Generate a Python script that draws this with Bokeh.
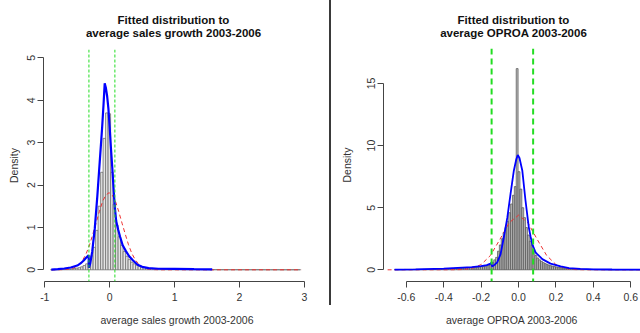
import numpy as np
from bokeh.plotting import figure
from bokeh.models import Span, FixedTicker, Div, Range1d, ColumnDataSource, PrintfTickFormatter
from bokeh.layouts import row, column
from bokeh.embed import file_html
from bokeh.resources import INLINE

# ---------------- Left panel: average sales growth ----------------
sales_bin_start = -0.91
sales_bin_width = 0.0385
sales_hist = [
    0.003, 0.004, 0.005, 0.006, 0.008, 0.010, 0.013, 0.017, 0.022, 0.030,
    0.040, 0.050, 0.070, 0.100, 0.140, 0.200, 0.330, 0.530, 0.930, 1.500,
    2.300, 3.100, 3.700, 3.680, 2.300, 1.550, 1.050, 0.780, 0.580, 0.430,
    0.320, 0.240, 0.180, 0.140, 0.110, 0.085, 0.068, 0.055, 0.045, 0.038,
    0.032, 0.028, 0.025, 0.022, 0.020, 0.018, 0.016, 0.015, 0.014, 0.013,
    0.012, 0.011, 0.011, 0.010, 0.010, 0.009, 0.009, 0.008, 0.008, 0.007,
    0.007, 0.006, 0.006, 0.006, 0.005, 0.005, 0.005, 0.005, 0.004, 0.004,
    0.004, 0.004, 0.004, 0.004, 0.003, 0.003, 0.003, 0.003, 0.003, 0.003,
    0.003, 0.003, 0.003, 0.003, 0.003, 0.002, 0.002, 0.002, 0.002, 0.002,
    0.002, 0.002, 0.002, 0.002, 0.002, 0.002, 0.002, 0.002, 0.002, 0.002,
]
sales_fit_x = [-0.90, -0.80, -0.70, -0.60, -0.50, -0.45, -0.40, -0.36, -0.325, -0.320,
               -0.30, -0.27, -0.23, -0.19, -0.154, -0.118, -0.095, -0.077, -0.060, -0.040,
               -0.020, 0.000, 0.020, 0.040, 0.060, 0.080, 0.100, 0.130, 0.160, 0.200,
               0.250, 0.300, 0.360, 0.430, 0.500, 0.600, 0.750, 1.000, 1.300, 1.580]
sales_fit_y = [0.005, 0.015, 0.030, 0.055, 0.100, 0.150, 0.220, 0.290, 0.340, 0.050,
               0.150, 0.420, 0.970, 1.750, 2.540, 3.320, 3.900, 4.400, 4.300, 4.100,
               3.800, 3.350, 2.850, 2.400, 1.900, 1.450, 1.150, 0.950, 0.780, 0.580,
               0.440, 0.320, 0.220, 0.120, 0.070, 0.040, 0.025, 0.020, 0.015, 0.012]
sales_norm_x = [-0.90, -0.81, -0.71, -0.61, -0.56, -0.51, -0.46, -0.41, -0.36, -0.31,
                -0.26, -0.21, -0.16, -0.11, -0.06, -0.01, 0.04, 0.09, 0.14, 0.19,
                0.24, 0.29, 0.34, 0.39, 0.44, 0.49, 0.54, 0.59, 0.69, 0.79, 2.95]
sales_norm_y = [0.0, 0.0, 0.004, 0.020, 0.040, 0.080, 0.145, 0.245, 0.390, 0.590,
                0.840, 1.100, 1.370, 1.610, 1.760, 1.820, 1.760, 1.610, 1.370, 1.100,
                0.840, 0.590, 0.390, 0.245, 0.145, 0.080, 0.040, 0.020, 0.004, 0.0, 0.0]
sales_cutoffs = [-0.32, 0.08]
sales_xticks = [-1, 0, 1, 2, 3]
sales_yticks = [0, 1, 2, 3, 4, 5]
sales_title = ["Fitted distribution to", "average sales growth 2003-2006"]

# ---------------- Right panel: average OPROA ----------------
oproa_bin_start = -0.6625
oproa_bin_width = 0.01
oproa_hist = [
    0.02, 0.02, 0.02, 0.02, 0.02, 0.03, 0.03, 0.03, 0.03, 0.03,
    0.04, 0.04, 0.04, 0.04, 0.04, 0.05, 0.05, 0.05, 0.05, 0.05,
    0.06, 0.06, 0.07, 0.07, 0.08, 0.08, 0.09, 0.09, 0.10, 0.10,
    0.11, 0.11, 0.12, 0.12, 0.13, 0.14, 0.14, 0.15, 0.16, 0.17,
    0.18, 0.19, 0.20, 0.21, 0.22, 0.24, 0.26, 0.28, 0.30, 0.33,
    0.38, 0.45, 0.62, 0.80, 1.00, 1.50, 2.00, 2.50, 3.00, 3.40,
    3.90, 4.60, 5.30, 6.00, 6.70, 16.2,
    7.90, 6.50, 5.00, 4.20, 3.40, 2.80, 2.30, 2.00, 1.50, 1.15,
    0.95, 0.80, 0.68, 0.58, 0.50, 0.44, 0.38, 0.33, 0.29, 0.26,
    0.23, 0.20, 0.18, 0.16, 0.14, 0.12, 0.11, 0.10, 0.09, 0.08,
    0.07, 0.065, 0.06, 0.055, 0.05, 0.045, 0.04, 0.04, 0.035, 0.03,
    0.03, 0.028, 0.025, 0.022, 0.02, 0.02, 0.018, 0.018, 0.016, 0.016,
    0.015, 0.015, 0.014, 0.014, 0.013, 0.013, 0.012, 0.012, 0.011, 0.011,
    0.01, 0.01, 0.01, 0.01, 0.01, 0.01,
]
oproa_fit_x = [-0.663, -0.55, -0.45, -0.40, -0.35, -0.30, -0.25, -0.20, -0.17, -0.15,
               -0.144, -0.143, -0.132, -0.114, -0.096, -0.079, -0.060, -0.043, -0.025, -0.012,
               -0.004, 0.005, 0.020, 0.037, 0.055, 0.064, 0.073, 0.091, 0.100, 0.118,
               0.127, 0.171, 0.225, 0.270, 0.330, 0.400, 0.500, 0.650]
oproa_fit_y = [0.02, 0.04, 0.08, 0.10, 0.14, 0.18, 0.22, 0.30, 0.38, 0.50,
               0.60, 0.28, 0.35, 0.60, 1.26, 2.60, 4.20, 6.10, 8.00, 8.90,
               9.25, 9.00, 8.00, 5.60, 3.40, 2.70, 2.07, 1.40, 1.26, 1.00,
               0.86, 0.50, 0.27, 0.14, 0.07, 0.04, 0.025, 0.02]
oproa_norm_x = [-0.70, -0.35, -0.30, -0.25, -0.20, -0.15, -0.10, -0.05, 0.0,
                0.05, 0.10, 0.15, 0.20, 0.25, 0.30, 0.35, 0.70]
oproa_norm_y = [0.0, 0.003, 0.02, 0.11, 0.42, 1.16, 2.44, 3.79, 4.40,
                3.79, 2.44, 1.16, 0.42, 0.11, 0.02, 0.003, 0.0]
oproa_cutoffs = [-0.144, 0.078]
oproa_xticks = [-0.6, -0.4, -0.2, 0.0, 0.2, 0.4, 0.6]
oproa_yticks = [0, 5, 10, 15]
oproa_title = ["Fitted distribution to", "average OPROA 2003-2006"]

FONT = "Liberation Sans"
AX = "#444444"
TXT = "#333333"
TITLE_H = 40


def title_div(width, lines, shift):
    html = ('<div style="text-align:center;font-family:\'Liberation Sans\',Arial,sans-serif;'
            'font-weight:bold;font-size:11.5px;line-height:12.5px;color:#111111;'
            'padding-top:14px;position:relative;left:%dpx;width:%dpx;">%s</div>'
            % (shift, width, "<br>".join(lines)))
    return Div(text=html, width=width, height=TITLE_H, margin=0)


def make_panel(width, xlabel, xr, yr, xticks, yticks, xfmt,
               bl, br, bt, bb, lab_standoff_y, ax_standoff_y):
    p = figure(width=width, height=333 - TITLE_H, output_backend="svg", toolbar_location=None,
               x_range=Range1d(*xr), y_range=Range1d(*yr),
               min_border_left=bl, min_border_right=br,
               min_border_top=bt - TITLE_H, min_border_bottom=bb)
    p.outline_line_color = None
    p.grid.visible = False
    p.background_fill_color = "white"
    p.border_fill_color = "white"
    for ax in (p.xaxis[0], p.yaxis[0]):
        ax.axis_line_color = AX
        ax.major_tick_line_color = AX
        ax.minor_tick_line_color = None
        ax.major_tick_out = 6
        ax.major_tick_in = 0
        ax.major_label_text_font = FONT
        ax.major_label_text_font_size = "10.5px"
        ax.major_label_text_color = TXT
        ax.axis_label_text_font = FONT
        ax.axis_label_text_font_size = "10.5px"
        ax.axis_label_text_font_style = "normal"
        ax.axis_label_text_color = TXT
    p.xaxis.ticker = FixedTicker(ticks=xticks)
    p.xaxis.formatter = PrintfTickFormatter(format=xfmt)
    p.xaxis.bounds = (xticks[0], xticks[-1])
    p.xaxis.axis_label = xlabel
    p.xaxis.major_label_standoff = 5
    p.xaxis.axis_label_standoff = 10
    p.yaxis.ticker = FixedTicker(ticks=yticks)
    p.yaxis.formatter = PrintfTickFormatter(format="%d")
    p.yaxis.bounds = (yticks[0], yticks[-1])
    p.yaxis.axis_label = "Density"
    p.yaxis.major_label_orientation = "vertical"
    p.yaxis.major_label_standoff = lab_standoff_y
    p.yaxis.axis_label_standoff = ax_standoff_y
    return p


def hist_source(start, width, heights):
    n = len(heights)
    edges = start + width * np.arange(n + 1)
    return ColumnDataSource(dict(left=edges[:-1], right=edges[1:], top=heights))


# Left figure
left = make_panel(329, "average sales growth 2003-2006",
                  (-1.02, 3.094), (-0.276, 5.196), sales_xticks, sales_yticks, "%d",
                  43, 19, 49, 52, 2, 5)
left.quad(left="left", right="right", top="top", bottom=0,
          source=hist_source(sales_bin_start, sales_bin_width, sales_hist),
          fill_color="#e4e4e4", line_color="#707070", line_width=0.8)
left.line(sales_norm_x, sales_norm_y, line_color="#ee3333", line_dash="4 3", line_width=1)
left.line(sales_fit_x, sales_fit_y, line_color="#0000ff", line_width=2.2)
for c in sales_cutoffs:
    left.add_layout(Span(location=c, dimension="height", line_color="#22dd22",
                         line_dash="3 2", line_width=1))

# Right figure
right = make_panel(309, "average OPROA 2003-2006",
                   (-0.722, 0.652), (-0.942, 17.82), oproa_xticks, oproa_yticks, "%.1f",
                   52, 0, 48, 52, 2, 12)
right.quad(left="left", right="right", top="top", bottom=0,
           source=hist_source(oproa_bin_start, oproa_bin_width, oproa_hist),
           fill_color="#bdbdbd", line_color="#505050", line_width=0.7)
right.line(oproa_norm_x, oproa_norm_y, line_color="#ee3333", line_dash="4 3", line_width=1)
right.line(oproa_fit_x, oproa_fit_y, line_color="#0000ff", line_width=1.8)
for c in oproa_cutoffs:
    right.add_layout(Span(location=c, dimension="height", line_color="#22dd22",
                          line_dash="6 4", line_width=2))

left_col = column(title_div(329, sales_title, 9), left, spacing=0)
right_col = column(title_div(309, oproa_title, 28), right, spacing=0)

divider = Div(text="", width=2, height=305, margin=0,
              styles={"background-color": "#3a3a3a"})

layout = row(left_col, divider, right_col, spacing=0)
open("out.html", "w").write(file_html(layout, INLINE))
